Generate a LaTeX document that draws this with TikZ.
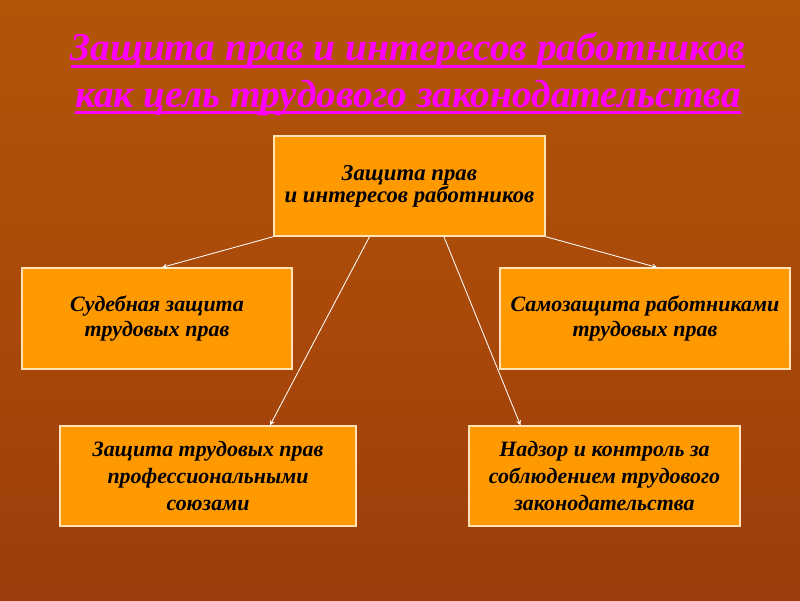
\documentclass[tikz,border=0pt]{standalone}
\usepackage{fontspec}
\setmainfont{Liberation Serif}
\usetikzlibrary{arrows,positioning,calc}

\definecolor{bgedge}{HTML}{984C08}
\definecolor{bgtop}{HTML}{B85C06}
\definecolor{bgmid}{HTML}{A8470A}
\definecolor{bgbot}{HTML}{8C300C}
\definecolor{boxfill}{HTML}{FF9900}
\definecolor{boxline}{HTML}{FFE3B5}
\definecolor{titlepink}{HTML}{FF00FF}

\pgfdeclareverticalshading{slidebg}{100bp}{color(0bp)=(bgbot); color(45bp)=(bgmid); color(90bp)=(bgtop); color(100bp)=(bgedge)}

% thick underline for the title lines
\newsavebox{\tlinebox}
\newcommand{\tline}[1]{\sbox{\tlinebox}{#1}\rlap{\rule[-5pt]{\wd\tlinebox}{2pt}}\usebox{\tlinebox}}

\tikzset{
  goalbox/.style={draw=boxline,line width=1pt,fill=boxfill,align=center,
    inner sep=2pt,font=\fontsize{15.6}{18}\selectfont\bfseries\itshape},
  conn/.style={draw=white,line width=0.6pt,->,>=stealth}
}

\begin{document}
\begin{tikzpicture}[x=0.025cm,y=-0.025cm]
 	\shade[shading=slidebg] (0,0) rectangle (800,600);
 	\useasboundingbox (0,0) rectangle (800,600);
 	% title
 	\node[titlepink,align=center,font=\fontsize{28}{33}\selectfont\bfseries\itshape] (title) at (408,74)
 		{\tline{Защита прав и интересов работников}\\\tline{как цель трудового законодательства}};
 	% boxes
 	\node[goalbox,minimum width=6.78cm,minimum height=2.5cm,font=\fontsize{16.2}{15.6}\selectfont\bfseries\itshape] (top) at (409.5,186)
 		{Защита прав\\ и интересов работников};
 	\node[goalbox,minimum width=6.75cm,minimum height=2.52cm] (court) at (157,318.5)
 		{Судебная защита\\трудовых прав};
 	\node[goalbox,minimum width=7.25cm,minimum height=2.52cm] (self) at (645,318.5)
 		{Самозащита работниками\\трудовых прав};
 	\node[goalbox,minimum width=7.4cm,minimum height=2.5cm,font=\fontsize{15.6}{19}\selectfont\bfseries\itshape] (union) at (208,476)
 		{Защита трудовых прав\\профессиональными\\союзами};
 	\node[goalbox,minimum width=6.78cm,minimum height=2.5cm,font=\fontsize{15.6}{19}\selectfont\bfseries\itshape] (control) at (604.5,476)
 		{Надзор и контроль за\\соблюдением трудового\\законодательства};
 	% arrows
 	\draw[conn] (top.south west) -- ([xshift=0.125cm]court.north);
 	\draw[conn] (top.south east) -- ([xshift=0.3cm]self.north);
 	\draw[conn] ([xshift=-1cm]top.south) -- ([xshift=1.55cm]union.north);
 	\draw[conn] ([xshift=0.86cm]top.south) -- ([xshift=-2.1cm]control.north);
 \end{tikzpicture}
\end{document}
